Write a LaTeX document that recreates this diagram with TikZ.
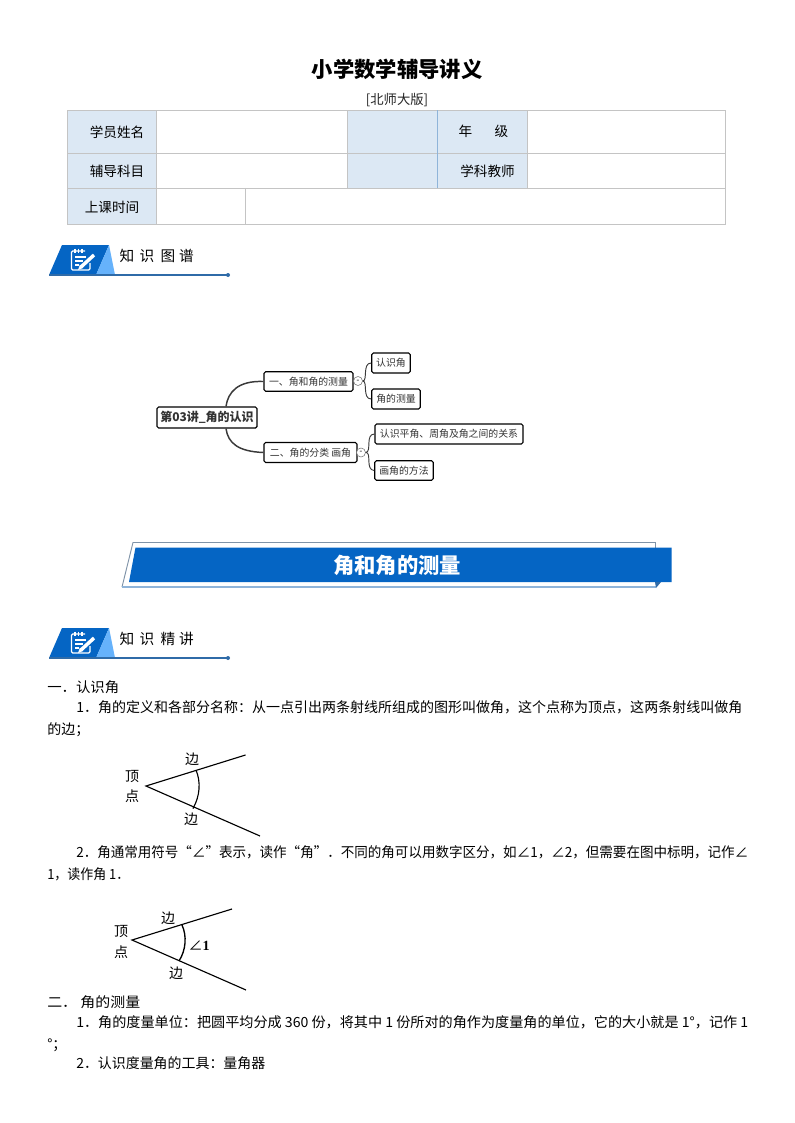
\documentclass[tikz,border=0pt]{standalone}
\usepackage{fontspec}
\setmainfont{Liberation Serif}
\newfontfamily\cjk{Noto Sans CJK SC}
\definecolor{cellblue}{HTML}{DCE8F4}
\definecolor{gridgrey}{HTML}{C4C4C4}
\definecolor{bannerblue}{HTML}{0565C4}
\definecolor{lightblue}{HTML}{66B2FB}
\definecolor{rulingblue}{HTML}{2F6BA8}
\definecolor{outlinegrey}{HTML}{7F93A8}
\definecolor{outlineblue}{HTML}{8FB4D9}
\definecolor{mapgrey}{HTML}{3A3A3A}
\newlength{\pxu}\setlength{\pxu}{0.75pt}
\newcommand{\fitw}[2]{\resizebox{#1\pxu}{\height}{#2}}
\tikzset{
  x=0.75pt,y=-0.75pt,
  bodyline/.style={anchor=base west,inner sep=0pt,font=\cjk\fontsize{10.5pt}{12pt}\selectfont},
  cellhead/.style={inner sep=0pt,font=\cjk\fontsize{10.2pt}{12pt}\selectfont},
  label/.style={inner sep=0pt,font=\cjk\fontsize{10.5pt}{12pt}\selectfont},
  mapbox/.style={draw=black,line width=0.8pt,rounded corners=1.2pt,fill=white,inner sep=0pt,
     font=\cjk\fontsize{7.4pt}{9pt}\selectfont,text=black!80},
  maplink/.style={draw=mapgrey,line width=1.1pt},
  maplinkthin/.style={draw=mapgrey,line width=0.7pt},
  foldcircle/.style={circle,draw=black!55,line width=0.4pt,fill=white,inner sep=0pt,minimum size=9*0.75pt,font=\fontsize{6pt}{6pt}\selectfont},
  raystyle/.style={line width=0.85pt,black},
  headtext/.style={inner sep=0pt,font=\cjk\fontsize{11pt}{12pt}\selectfont},
}
\newcommand{\badge}[1]{%
  \begin{scope}[yshift=-#1*0.75pt]
    \fill[bannerblue] (49,275) -- (62,245) -- (109,245) -- (96,275) -- cycle;
    \fill[lightblue] (96,275) -- (109,245) -- (115,275) -- cycle;
    \draw[white,line width=0.9pt,rounded corners=1pt] (85,251) -- (71.5,251) -- (71.5,270) -- (90,270) -- (90,263);
    \draw[white,line width=0.9pt] (75,248.5) -- (75,253) (78.5,248.5) -- (78.5,253) (82,248.5) -- (82,253);
    \draw[white,line width=0.9pt] (75,257) -- (86,257) (75,261) -- (83,261) (75,265) -- (79,265);
    \draw[white,line width=2.6pt] (81,267) -- (94,255);
    \fill[white] (78,270) -- (80,264.5) -- (83,268) -- cycle;
    \draw[rulingblue,line width=1.3pt] (49,275) -- (228,275);
    \fill[rulingblue] (228,275) circle[radius=2];
  \end{scope}}
\begin{document}
\begin{tikzpicture}
\useasboundingbox (0,0) rectangle (794,1123);
\fill[white] (0,0) rectangle (794,1123);

% title
\node[inner sep=0pt,font=\cjk\bfseries\fontsize{16pt}{18pt}\selectfont] (title) at (397,69) {小学数学辅导讲义};
\node[inner sep=0pt,font=\cjk\fontsize{10pt}{12pt}\selectfont,text=black!85] (edition) at (397,100) {[北师大版]};

% table
\fill[cellblue] (67.5,110.5) rectangle (156,224);
\fill[cellblue] (347,110.5) rectangle (527.5,188);
\draw[gridgrey,line width=0.6pt] (67.5,110.5) rectangle (725,224);
\draw[gridgrey,line width=0.6pt] (67.5,153) -- (725,153) (67.5,188) -- (725,188);
\draw[gridgrey,line width=0.6pt] (156,110.5) -- (156,224) (245.5,188) -- (245.5,224);
\draw[gridgrey,line width=0.6pt] (347,110.5) -- (347,188) (527.5,110.5) -- (527.5,188);
\draw[outlineblue,line width=0.6pt] (437,110.5) -- (437,188);
\node[cellhead] (c1) at (117,132) {学员姓名};
\node[cellhead] (c2) at (117,171) {辅导科目};
\node[cellhead] (c3) at (112,207) {上课时间};
\node[cellhead] (c4a) at (465.5,131.5) {年};
\node[cellhead] (c4b) at (501.5,131.5) {级};
\node[cellhead] (c5) at (487.5,171) {学科教师};

% first section badge
\badge{0}
\node[headtext] (h1a) at (127,256) {知};
\node[headtext] (h1b) at (147,256) {识};
\node[headtext] (h1c) at (168,256) {图};
\node[headtext] (h1d) at (186.5,256) {谱};

% mind map
\node[mapbox,minimum width=100*0.75pt,minimum height=21*0.75pt,font=\cjk\bfseries\fontsize{9pt}{11pt}\selectfont,line width=0.9pt] (root) at (207,417.5) {第03讲\_角的认识};
\node[mapbox,minimum width=89*0.75pt,minimum height=19.5*0.75pt] (a) at (308.5,381.5) {一、角和角的测量};
\node[mapbox,minimum width=93*0.75pt,minimum height=20*0.75pt] (b) at (310.5,452.5) {二、角的分类 画角};
\node[mapbox,minimum width=38.5*0.75pt,minimum height=20*0.75pt] (a1) at (391,363) {认识角};
\node[mapbox,minimum width=48.5*0.75pt,minimum height=20*0.75pt] (a2) at (396,399) {角的测量};
\node[mapbox,minimum width=148*0.75pt,minimum height=20*0.75pt] (b1) at (449,434) {认识平角、周角及角之间的关系};
\node[mapbox,minimum width=58.5*0.75pt,minimum height=19.5*0.75pt] (b2) at (404,470.5) {画角的方法};
\node[foldcircle] (fa) at (358,381) {-};
\node[foldcircle] (fb) at (361,452.5) {-};
\draw[maplink] ([xshift=19*0.75pt]root.north) .. controls (228,392) and (238,380.5) .. (a.west);
\draw[maplink] ([xshift=19*0.75pt]root.south) .. controls (228,443) and (238,451.5) .. (b.west);
\draw[maplinkthin] (fa.east) .. controls (368,381) and (362,363) .. (a1.west);
\draw[maplinkthin] (fa.east) .. controls (368,381) and (362,399) .. (a2.west);
\draw[maplinkthin] (fb.east) .. controls (372,452) and (365,434) .. (b1.west);
\draw[maplinkthin] (fb.east) .. controls (372,452) and (365,470) .. (b2.west);

% section banner
\draw[outlinegrey,line width=0.7pt] (122,587) -- (133,542.5) -- (655.5,542.5) -- (655.5,548);
\draw[outlineblue,line width=0.9pt] (122,587) -- (655.5,587);
\fill[bannerblue] (135.5,547.5) -- (671.5,547.5) -- (671.5,582) -- (129,582) -- cycle;
\fill[rulingblue] (655,582) -- (661,582) -- (656,588) -- cycle;
\node[inner sep=0pt,text=white,font=\cjk\bfseries\fontsize{16pt}{18pt}\selectfont] (bannertext) at (397,565) {角和角的测量};

% second section badge
\badge{383}
\node[headtext] (h2a) at (127,639) {知};
\node[headtext] (h2b) at (147,639) {识};
\node[headtext] (h2c) at (168,639) {精};
\node[headtext] (h2d) at (186.5,639) {讲};

% body
\node[bodyline] (l1) at (47,692) {\fitw{72}{一．认识角}};
\node[bodyline] (l2) at (76,712) {\fitw{666}{1．角的定义和各部分名称：从一点引出两条射线所组成的图形叫做角，这个点称为顶点，这两条射线叫做角}};
\node[bodyline] (l3) at (47,734) {的边；};

% figure 1
\coordinate (v1) at (146,786);
\coordinate (u1) at (245.5,755);
\coordinate (d1) at (260,836);
\coordinate (au1) at (196,770);
\coordinate (ad1) at (193,808.5);
\draw[raystyle] (u1) -- (v1) -- (d1);
\draw[raystyle] (au1) .. controls (201,782) and (200,796) .. (ad1);
\node[label] (f1e1) at (192,759) {边};
\node[label] (f1e2) at (191,819) {边};
\node[label] (f1v1) at (132,776) {顶};
\node[label] (f1v2) at (132,796) {点};

\node[bodyline] (l4) at (76,857) {\fitw{672}{2．角通常用符号“∠”表示，读作“角”．不同的角可以用数字区分，如∠1，∠2，但需要在图中标明，记作∠}};
\node[bodyline] (l5) at (47,879) {\fitw{82}{1，读作角 1．}};

% figure 2
\coordinate (v2) at (132,940);
\coordinate (u2) at (232,909);
\coordinate (d2) at (246,990);
\coordinate (au2) at (182,925);
\coordinate (ad2) at (179,961);
\draw[raystyle] (u2) -- (v2) -- (d2);
\draw[raystyle,line width=1pt] (au2) .. controls (187,936) and (186,950) .. (ad2);
\node[label] (f2e1) at (168,918) {边};
\node[label] (f2e2) at (176,973) {边};
\node[label] (f2v1) at (121,931) {顶};
\node[label] (f2v2) at (121,952) {点};
\node[inner sep=0pt,font=\fontsize{10.5pt}{12pt}\selectfont] (f2a) at (199,946) {{\cjk ∠}\textbf{1}};

\node[bodyline] (l6) at (47,1007) {\fitw{93}{二． 角的测量}};
\node[bodyline] (l7) at (76,1027) {\fitw{672}{1．角的度量单位：把圆平均分成 360 份，将其中 1 份所对的角作为度量角的单位，它的大小就是 1°，记作 1}};
\node[bodyline] (l8) at (47,1049) {°；};
\node[bodyline] (l9) at (76,1068) {\fitw{189}{2．认识度量角的工具：量角器}};
\end{tikzpicture}
\end{document}
